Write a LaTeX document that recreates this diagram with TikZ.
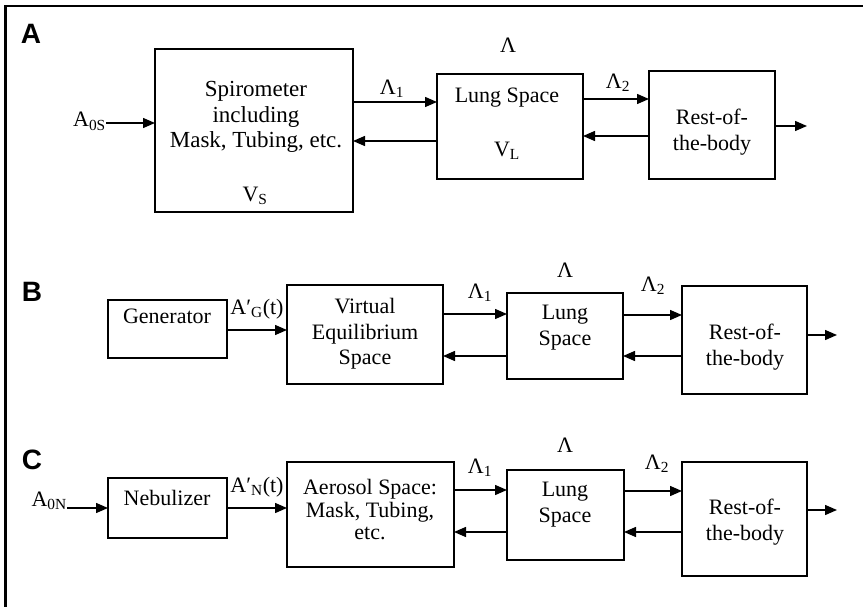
\documentclass[tikz,border=0pt]{standalone}
\usepackage{fontspec}
\setmainfont{Liberation Serif}
\newfontfamily\panelfont{Liberation Sans}
\usetikzlibrary{arrows.meta}
\tikzset{
  blk/.style={draw, line width=1.5pt, inner sep=0pt, outer sep=0pt},
  txt/.style={font=\fontsize{22}{25.5}\selectfont, inner sep=0pt, align=center},
  txtspiro/.style={font=\fontsize{23}{25.5}\selectfont, inner sep=0pt, align=center},
  txtrest/.style={font=\fontsize{22}{26.5}\selectfont, inner sep=0pt, align=center},
  txtaero/.style={font=\fontsize{22}{22.5}\selectfont, inner sep=0pt, align=center},
  lbl/.style={font=\fontsize{22}{25}\selectfont, inner sep=0pt},
  panel/.style={font=\panelfont\bfseries\fontsize{28}{28}\selectfont, inner sep=0pt},
  arr/.style={line width=1.4pt, -{Triangle[length=12pt,width=10pt]}},
  frame/.style={line width=2.6pt}
}
\newcommand\mybox[5]{\node[blk, minimum width={(#4-#2)*1pt}, minimum height={(#5-#3)*1pt}] (#1) at ({(#2+#4)/2},{(#3+#5)/2}) {};}
\begin{document}
\begin{tikzpicture}[x=1pt,y=-1pt]
\useasboundingbox (0,0) rectangle (863,607);
\fill[white] (0,0) rectangle (863,607);
\draw[frame] (5.5,607) -- (5.5,6) -- (863,6);

% ---------- Panel A ----------
\node[panel] (pa) at (31,34) {A};
\mybox{spiro}{155}{49}{353}{212}
\node[txtspiro] (spirot) at (256,117) {Spirometer\\including\\Mask, Tubing, etc.};
\node[lbl] (vs) at (255,196) {V\textsubscript{S}};
\node[lbl, anchor=base east] (a0s) at (106,127) {A\textsubscript{0S}};
\draw[arr] (a0s.east |- 0,123) -- (spiro.west |- 0,123);
\mybox{lungA}{437}{74}{583}{179}
\node[lbl] (lungAt) at (507,98) {Lung Space};
\node[lbl] (vl) at (507,151) {V\textsubscript{L}};
\node[lbl] (lamA) at (508,45) {Λ};
\node[lbl] (lamoneA) at (392,89) {Λ\textsubscript{1}};
\draw[arr] (spiro.east |- 0,102) -- (lungA.west |- 0,102);
\draw[arr] (lungA.west |- 0,141) -- (spiro.east |- 0,141);
\mybox{restA}{649}{71}{775}{179}
\node[txtrest] (restAt) at (712,132) {Rest-of-\\the-body};
\node[lbl] (lamtwoA) at (618,83) {Λ\textsubscript{2}};
\draw[arr] (lungA.east |- 0,99) -- (restA.west |- 0,99);
\draw[arr] (restA.west |- 0,136) -- (lungA.east |- 0,136);
\coordinate (outA) at (807,126);
\draw[arr] (restA.east |- outA) -- (outA);

% ---------- Panel B ----------
\node[panel] (pb) at (32,292) {B};
\mybox{gen}{108}{300}{227}{358}
\node[lbl] (gent) at (167,316.5) {Generator};
\node[lbl, anchor=base] (agt) at (257,314) {A′\textsubscript{G}(t)};
\mybox{veq}{287}{285}{443}{384}
\node[txt] (veqt) at (365,334) {Virtual\\Equilibrium\\Space};
\draw[arr] (gen.east |- 0,330) -- (veq.west |- 0,330);
\mybox{lungB}{507}{293}{623}{379}
\node[txt] (lungBt) at (565,327.5) {Lung\\Space};
\node[lbl] (lamB) at (565,270) {Λ};
\node[lbl] (lamoneB) at (480,293) {Λ\textsubscript{1}};
\draw[arr] (veq.east |- 0,314) -- (lungB.west |- 0,314);
\draw[arr] (lungB.west |- 0,356) -- (veq.east |- 0,356);
\mybox{restB}{682}{286}{807}{394}
\node[txtrest] (restBt) at (745,347) {Rest-of-\\the-body};
\node[lbl] (lamtwoB) at (653,286) {Λ\textsubscript{2}};
\draw[arr] (lungB.east |- 0,315) -- (restB.west |- 0,315);
\draw[arr] (restB.west |- 0,356) -- (lungB.east |- 0,356);
\coordinate (outB) at (837,335);
\draw[arr] (restB.east |- outB) -- (outB);

% ---------- Panel C ----------
\node[panel] (pc) at (32,460) {C};
\node[lbl, anchor=base east] (a0n) at (67,506) {A\textsubscript{0N}};
\mybox{neb}{108}{478}{227}{538}
\node[lbl] (nebt) at (167,497.5) {Nebulizer};
\draw[arr] (a0n.east |- 0,508) -- (neb.west |- 0,508);
\node[lbl, anchor=base] (ant) at (257,492) {A′\textsubscript{N}(t)};
\mybox{aero}{287}{462}{454}{567}
\node[txtaero] (aerot) at (370,510) {Aerosol Space:\\Mask, Tubing,\\etc.};
\draw[arr] (neb.east |- 0,508) -- (aero.west |- 0,508);
\mybox{lungC}{507}{470}{624}{560}
\node[txt] (lungCt) at (565,504.5) {Lung\\Space};
\node[lbl] (lamC) at (565,445) {Λ};
\node[lbl] (lamoneC) at (480,468) {Λ\textsubscript{1}};
\draw[arr] (aero.east |- 0,490) -- (lungC.west |- 0,490);
\draw[arr] (lungC.west |- 0,532) -- (aero.east |- 0,532);
\mybox{restC}{682}{462}{807}{576}
\node[txtrest] (restCt) at (745,522) {Rest-of-\\the-body};
\node[lbl] (lamtwoC) at (657,464) {Λ\textsubscript{2}};
\draw[arr] (lungC.east |- 0,491) -- (restC.west |- 0,491);
\draw[arr] (restC.west |- 0,532) -- (lungC.east |- 0,532);
\coordinate (outC) at (837,510);
\draw[arr] (restC.east |- outC) -- (outC);
\end{tikzpicture}
\end{document}
